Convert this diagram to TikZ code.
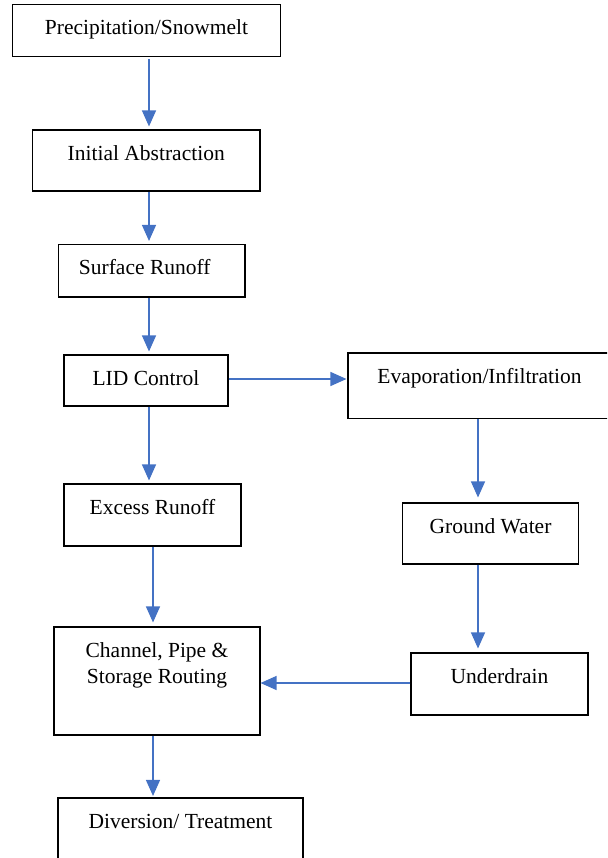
\documentclass[tikz,border=0pt]{standalone}
\usepackage{fontspec}
\setmainfont{Liberation Serif}
\usetikzlibrary{arrows.meta,positioning,calc}
\definecolor{flowblue}{HTML}{4472C4}
\begin{document}
\begin{tikzpicture}[
    x=1pt, y=-1pt,
    >={Triangle[length=16pt,width=14pt]},
    stage/.style={draw, line width=1.1pt, inner sep=0pt},
    caption/.style={anchor=base, align=center, inner sep=0pt, font=\fontsize{21.5}{26}\selectfont},
    flow/.style={->, line width=1.3pt, flowblue, shorten >=3pt}
]
\clip (0,0) rectangle (607,858);
\useasboundingbox (0,0) rectangle (607,858);

\node[stage, minimum width=268pt, minimum height=52pt] (precip) at (146.5,30.5) {};
\node[stage, minimum width=227.5pt, minimum height=61pt] (abstr) at (146.25,160.5) {};
\node[stage, minimum width=186.5pt, minimum height=52.5pt] (surface) at (151.75,270.75) {};
\node[stage, minimum width=164pt, minimum height=51pt] (lid) at (146,380.5) {};
\node[stage, minimum width=267pt, minimum height=65.5pt] (evap) at (481.5,385.75) {};
\node[stage, minimum width=177pt, minimum height=62pt] (excess) at (152.5,515) {};
\node[stage, minimum width=176pt, minimum height=61pt] (ground) at (490.5,533.5) {};
\node[stage, minimum width=206pt, minimum height=108pt] (routing) at (157,681) {};
\node[stage, minimum width=177pt, minimum height=62pt] (drain) at (499.5,684) {};
\node[stage, minimum width=245pt, minimum height=80pt] (divert) at (180.5,838) {};

\node[caption] (precip-t) at ([yshift=-31pt]precip.north) {Precipitation/Snowmelt};
\node[caption] (abstr-t) at ([yshift=-31pt]abstr.north) {Initial Abstraction};
\node[caption] (surface-t) at ([xshift=-7pt,yshift=-31pt]surface.north) {Surface Runoff};
\node[caption] (lid-t) at ([yshift=-31pt]lid.north) {LID Control};
\node[caption] (evap-t) at ([xshift=-2pt,yshift=-31pt]evap.north) {Evaporation/Infiltration};
\node[caption] (excess-t) at ([yshift=-31pt]excess.north) {Excess Runoff};
\node[caption] (ground-t) at ([yshift=-31pt]ground.north) {Ground Water};
\node[caption] (routing-t) at ([yshift=-57pt]routing.north) {Channel, Pipe \&\\Storage Routing};
\node[caption] (drain-t) at ([yshift=-31pt]drain.north) {Underdrain};
\node[caption] (divert-t) at ([yshift=-31pt]divert.north) {Diversion/ Treatment};

\draw[flow, shorten <=2pt] (precip.south -| 149,0) -- (abstr.north -| 149,0);
\draw[flow] (abstr.south -| 149,0) -- (surface.north -| 149,0);
\draw[flow] (surface.south -| 149,0) -- (lid.north -| 149,0);
\draw[flow, shorten >=1pt] (lid.east |- 0,379) -- (evap.west |- 0,379);
\draw[flow] (lid.south -| 149,0) -- (excess.north -| 149,0);
\draw[flow, shorten >=5pt] (evap.south -| 478,0) -- (ground.north -| 478,0);
\draw[flow, shorten >=4pt] (excess.south -| 153,0) -- (routing.north -| 153,0);
\draw[flow, shorten >=4pt] (ground.south -| 478,0) -- (drain.north -| 478,0);
\draw[flow, shorten >=0pt] (drain.west |- 0,683) -- (routing.east |- 0,683);
\draw[flow, shorten >=1.5pt] (routing.south -| 153,0) -- (divert.north -| 153,0);
\end{tikzpicture}
\end{document}
